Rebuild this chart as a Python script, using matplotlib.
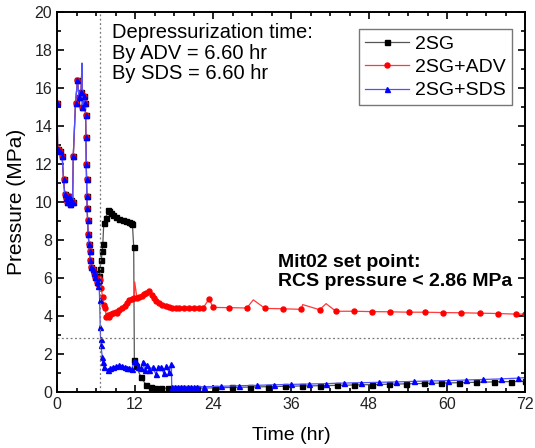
import matplotlib

matplotlib.use("Agg")
import matplotlib.pyplot as plt
from matplotlib.ticker import MultipleLocator

plt.rcParams["font.family"] = ["Liberation Sans", "DejaVu Sans"]

# common transient before depressurization (all three cases overlap)
t_early = [0.0, 0.1, 0.4, 0.8, 1.0, 1.2, 1.4, 1.6, 1.8, 2.0, 2.2, 2.4, 2.5, 2.85,
           3.15, 3.4, 3.7, 3.85, 3.9, 4.1, 4.3, 4.4, 4.45, 4.5, 4.55, 4.6, 4.65,
           4.7, 4.8, 4.9, 5.0, 5.1, 5.3, 5.5, 5.7, 5.9, 6.1]
p_early = [15.2, 12.8, 12.7, 12.4, 11.2, 10.4, 10.2, 10.0, 10.3, 9.9, 10.1, 10.0,
           12.4, 15.2, 16.4, 15.5, 15.8, 17.3, 15.0, 15.6, 15.2, 14.6, 13.4, 12.0,
           11.2, 10.3, 9.7, 9.05, 8.3, 7.8, 7.4, 6.95, 6.6, 6.5, 6.25, 6.07, 5.8]
spike_early = [3.85]

# 2SG
t_2sg = [6.3, 6.45, 6.6, 6.8, 6.97, 7.05, 7.2, 7.5, 7.85, 8.0, 8.3, 8.6, 9.1, 9.6,
         10.1, 10.6, 11.0, 11.4, 11.6, 11.8, 11.9, 12.15, 12.9, 13.7, 14.4, 15.0,
         16.0, 17.0, 18.0, 19.0, 20.0, 21.6, 24.3, 26.9, 29.7, 32.4, 35.0, 37.7,
         40.4, 43.1, 45.7, 48.4, 51.1, 53.7, 56.4, 59.1, 61.8, 64.4, 67.2, 69.9, 72.0]
p_2sg = [5.85, 6.1, 6.5, 6.95, 7.4, 7.8, 8.9, 9.15, 9.6, 9.5, 9.4, 9.3, 9.2, 9.12,
         9.05, 9.0, 8.95, 8.9, 8.85, 7.65, 1.7, 1.37, 0.8, 0.37, 0.25, 0.2,
         0.2, 0.2, 0.2, 0.2, 0.2, 0.2, 0.22, 0.24, 0.26, 0.28, 0.3, 0.32,
         0.33, 0.35, 0.37, 0.39, 0.41, 0.43, 0.45, 0.47, 0.49, 0.51, 0.53, 0.55, 0.56]

# 2SG+ADV
t_adv = [6.3, 6.5, 6.6, 6.8, 7.0, 7.2, 7.4, 7.6, 7.8, 8.0, 8.3, 8.6, 9.0, 9.3, 9.6,
         10.0, 10.4, 10.8, 11.1, 11.5, 11.9, 11.95, 12.3, 12.65, 13.0, 13.4, 13.7,
         14.2, 14.6, 14.95, 15.3, 15.7, 16.2, 16.7, 17.2, 17.7, 18.3, 18.8, 19.5,
         20.3, 21.0, 21.8, 22.5, 23.4, 24.0, 26.4, 29.2, 30.2, 32.0, 34.8, 37.6,
         37.8, 40.4, 41.4, 42.9, 45.7, 48.5, 51.3, 54.1, 56.6, 59.4, 62.2, 65.0,
         67.8, 70.6, 72.0]
p_adv = [5.7, 6.0, 5.9, 5.5, 5.0, 4.6, 4.4, 3.95, 4.05, 3.95, 4.1, 4.15, 4.2, 4.15,
         4.3, 4.4, 4.53, 4.7, 4.84, 4.9, 4.93, 5.8, 4.95, 5.0, 5.05, 5.15, 5.2,
         5.3, 5.1, 4.93, 4.8, 4.67, 4.6, 4.53, 4.48, 4.44, 4.42, 4.4, 4.42,
         4.44, 4.42, 4.44, 4.43, 4.9, 4.45, 4.44, 4.42, 4.85, 4.4, 4.38, 4.35,
         4.6, 4.33, 4.65, 4.25, 4.25, 4.23, 4.22, 4.2, 4.2, 4.18, 4.17, 4.15,
         4.13, 4.1, 4.1]
spike_adv = [11.95, 30.2, 37.8, 41.4]

# 2SG+SDS
t_sds = [6.3, 6.45, 6.56, 6.65, 6.7, 6.75, 6.97, 7.05, 7.3, 7.8, 8.2, 8.6, 9.1, 9.6,
         10.0, 10.4, 10.8, 11.1, 11.5, 11.9, 12.2, 12.5, 12.9, 13.2, 13.5, 13.8,
         14.2, 14.7, 15.2, 15.6, 16.0, 16.4, 16.8, 17.2, 17.6, 17.65, 18.1, 18.6,
         19.1, 19.6, 20.1, 20.6, 21.1, 21.6, 22.6, 25.3, 28.0, 30.7, 33.4, 36.0,
         38.7, 41.4, 44.1, 46.8, 49.5, 52.2, 54.9, 57.5, 60.2, 62.9, 65.6, 68.3,
         70.9, 72.0]
p_sds = [5.6, 5.9, 4.84, 3.44, 2.8, 2.45, 1.86, 1.6, 1.33, 1.16, 1.25, 1.33, 1.35,
         1.42, 1.38, 1.33, 1.28, 1.25, 1.2, 1.65, 1.6, 1.3, 1.25, 1.6, 1.15, 1.4,
         1.16, 1.3, 0.95, 1.3, 1.3, 1.0, 1.35, 1.05, 1.45, 0.28, 0.27, 0.27,
         0.27, 0.27, 0.27, 0.27, 0.27, 0.27, 0.28, 0.3, 0.33, 0.35, 0.38, 0.4,
         0.42, 0.44, 0.47, 0.49, 0.51, 0.53, 0.56, 0.58, 0.6, 0.63, 0.66, 0.69,
         0.73, 0.76]

T_DEPRESS = 6.6
SETPOINT = 2.86

fig = plt.figure(figsize=(5.35, 4.48), dpi=100)
# axes box: x 57..525 px, y 12..392 px
ax = fig.add_axes([57 / 535, 56 / 448, 468 / 535, 380 / 448])

series = [
    ("2SG", t_2sg, p_2sg, "#555555", "black", "s", []),
    ("2SG+ADV", t_adv, p_adv, "#ff3a3a", "red", "o", spike_adv),
    ("2SG+SDS", t_sds, p_sds, "#5050ff", "blue", "^", []),
]
for label, t, p, lc, mc, m, spikes in series:
    tt = t_early + t
    pp = p_early + p
    # spikes are line-only samples, no marker on them
    marks = [x not in spikes and x not in spike_early for x in tt]
    ax.plot(tt, pp, color=lc, lw=0.9, marker=m, markersize=3.6,
            markerfacecolor=mc, markeredgecolor=mc, markevery=marks, label=label)

ax.axvline(T_DEPRESS, color="#777777", lw=0.9, ls=(0, (1.5, 2)))
ax.axhline(SETPOINT, color="#777777", lw=0.9, ls=(0, (1.5, 2)))

ax.set_xlim(0, 72)
ax.set_ylim(0, 20)
ax.xaxis.set_major_locator(MultipleLocator(12))
ax.xaxis.set_minor_locator(MultipleLocator(3))
ax.yaxis.set_major_locator(MultipleLocator(2))
ax.yaxis.set_minor_locator(MultipleLocator(1))
ax.tick_params(which="both", direction="in", top=True, right=True, width=1.2,
               labelsize=11.5, labelcolor="#222222")
ax.tick_params(which="major", length=5)
ax.tick_params(which="minor", length=3)
for s in ax.spines.values():
    s.set_linewidth(1.4)

ax.set_xlabel("Time (hr)", fontsize=14, labelpad=11)
ax.set_ylabel("Pressure (MPa)", fontsize=15, labelpad=6)

ax.text(8.5, 19.4, "Depressurization time:\nBy ADV = 6.60 hr\nBy SDS = 6.60 hr",
        fontsize=14.5, va="top", ha="left", linespacing=1.1)
ax.text(34.0, 7.25, "Mit02 set point:\nRCS pressure < 2.86 MPa",
        fontsize=14, fontweight="bold", va="top", ha="left", linespacing=1.15)

leg = ax.legend(loc="upper right", bbox_to_anchor=(0.972, 0.955), fontsize=14,
                fancybox=False, edgecolor="#555555", handlelength=2.3,
                borderpad=0.3, labelspacing=0.3, handletextpad=0.3,
                borderaxespad=0.0)
leg.get_frame().set_linewidth(1.0)

fig.savefig("out.png", dpi=100)
